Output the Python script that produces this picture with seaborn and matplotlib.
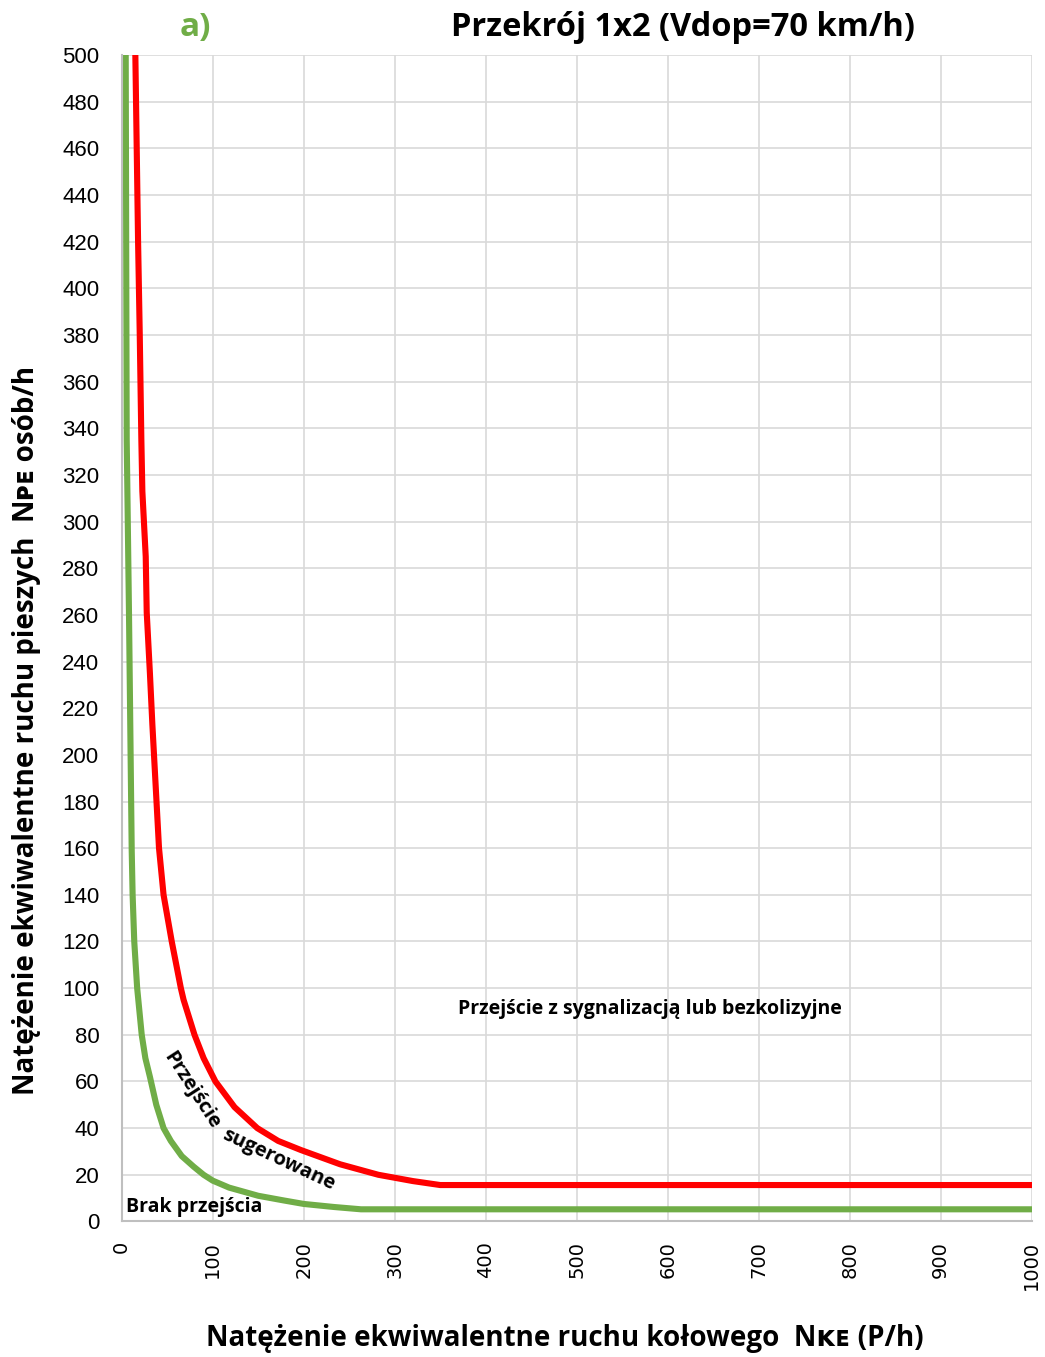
import matplotlib
matplotlib.use("Agg")
import matplotlib.pyplot as plt
from matplotlib import font_manager
from matplotlib.ticker import MultipleLocator
import seaborn as sns
import pandas as pd

# threshold curves
red_x = [15, 18, 19.8, 21.6, 22.7, 26.4, 27.5, 31, 33.7, 36.6, 41, 46, 55, 65, 68, 80,
         90, 103, 124, 149, 172, 197, 240, 282, 320, 350, 1000]
red_y = [500, 420, 381, 335, 313, 285, 261, 235, 213, 192, 160, 140, 120, 100, 95, 80,
         70, 60, 49, 40, 34.5, 30.6, 24.5, 20, 17.3, 15.6, 15.6]
green_x = [4.4, 5.5, 8, 11, 12, 13.8, 17, 22, 26, 31, 38, 46, 54, 66, 79, 90, 100, 118,
           150, 178, 200, 233, 263, 1000]
green_y = [500, 335, 261, 159, 140, 120, 100, 80, 70, 62, 50, 40, 34.5, 28, 23.5, 20, 17.5, 14.5,
           11, 9, 7.5, 6.2, 5.2, 5.2]

title = "Przekrój 1x2 (Vdop=70 km/h)"
xlabel = "Natężenie ekwiwalentne ruchu kołowego  Nᴋᴇ (P/h)"
ylabel = "Natężenie ekwiwalentne ruchu pieszych  Nᴘᴇ osób/h"

sns.set_theme(style="white")
names = {f.name for f in font_manager.fontManager.ttflist}
narrow = "Liberation Sans Narrow" if "Liberation Sans Narrow" in names else "Open Sans"
plt.rcParams["font.family"] = [narrow, "DejaVu Sans"]
plt.rcParams["text.color"] = "black"
plt.rcParams["xtick.color"] = "black"
plt.rcParams["ytick.color"] = "black"

red_df = pd.DataFrame({"x": red_x, "y": red_y})
green_df = pd.DataFrame({"x": green_x, "y": green_y})

fig = plt.figure(figsize=(10.45, 13.57), dpi=100)
ax = fig.add_axes([121.7 / 1045, 0.0999, 910 / 1045, 0.8596])

sns.lineplot(data=red_df, x="x", y="y", color="#ff0000", linewidth=4.4, sort=False, estimator=None, ax=ax)
sns.lineplot(data=green_df, x="x", y="y", color="#70ad47", linewidth=4.4, sort=False, estimator=None, ax=ax)

ax.set_xlim(0, 1000)
ax.set_ylim(0, 500)
ax.xaxis.set_major_locator(MultipleLocator(100))
ax.xaxis.set_minor_locator(MultipleLocator(25))
ax.yaxis.set_major_locator(MultipleLocator(20))
ax.yaxis.set_minor_locator(MultipleLocator(10))
ax.grid(True, which="major", color="#d9d9d9", linewidth=1.2)
ax.set_axisbelow(True)
for s in ["top", "right"]:
    ax.spines[s].set_visible(False)
for s in ["left", "bottom"]:
    ax.spines[s].set_color("#bfbfbf")
    ax.spines[s].set_linewidth(1.5)

ax.tick_params(axis="both", which="both", direction="in", color="#bfbfbf", length=4, width=1)
ax.tick_params(axis="y", which="major", pad=16, labelsize=16, labelcolor="black")
ax.tick_params(axis="x", which="major", pad=14, labelsize=14, labelcolor="black")
for lab in ax.get_yticklabels():
    lab.set_family(["Liberation Sans", "DejaVu Sans"])
for lab in ax.get_xticklabels():
    lab.set_family("DejaVu Sans")
    lab.set_rotation(90)
ax.set_xlabel("")
ax.set_ylabel("")

# region labels (the middle one bends along the curve, so two pieces)
ax.text(581, 91, "Przejście z sygnalizacją lub bezkolizyjne", fontsize=14, fontweight="bold",
        ha="center", va="center")
ax.text(77, 56, "Przejście", fontsize=14.5, fontweight="bold",
        ha="center", va="center", rotation=-57)
ax.text(173, 26.5, "sugerowane", fontsize=14.5, fontweight="bold",
        ha="center", va="center", rotation=-25)
ax.text(5, 6, "Brak przejścia", fontsize=14, fontweight="bold", ha="left", va="center")

fig.text(195 / 1045, 0.980, "a)", color="#70ad47", fontsize=24, fontweight="bold", ha="center", va="center")
fig.text(683 / 1045, 0.980, title, fontsize=23.5, fontweight="bold", ha="center", va="center")
fig.text(565 / 1045, 0.014, xlabel, fontsize=20, fontweight="bold", ha="center", va="center")
fig.text(27 / 1045, 1 - 730 / 1357, ylabel, fontsize=20, fontweight="bold", ha="center", va="center", rotation=90)

fig.savefig("out.png", dpi=100)
